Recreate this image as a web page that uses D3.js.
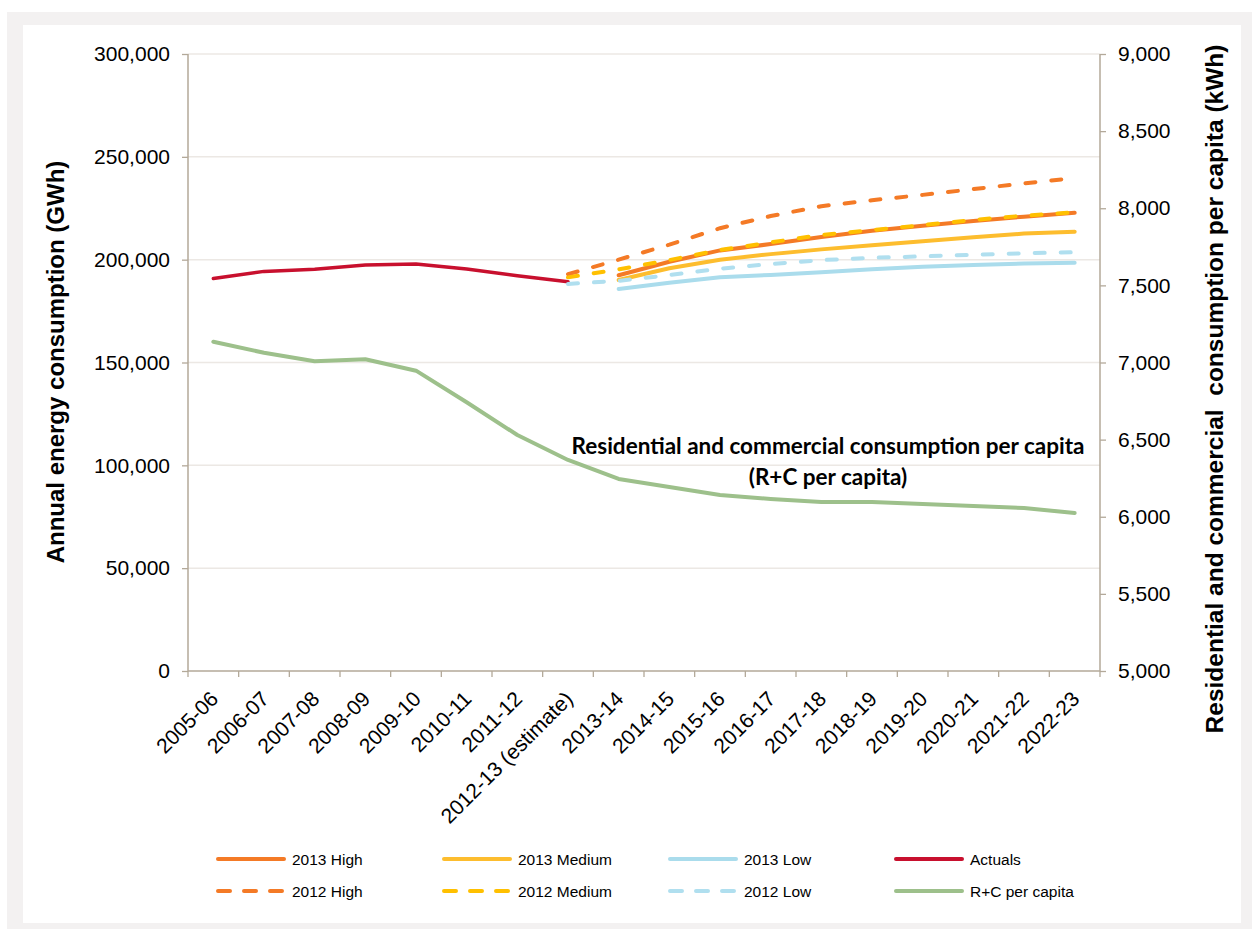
<!DOCTYPE html>
<html>
<head>
<meta charset="utf-8">
<script src="https://cdn.jsdelivr.net/npm/d3@7/dist/d3.min.js"></script>
<style>
  html, body { margin: 0; padding: 0; background: #ffffff; }
  svg { display: block; }
  text { font-family: "Liberation Sans", Arial, sans-serif; fill: #000; }
</style>
</head>
<body>
<svg id="chart" width="1252" height="929"></svg>
<script>
// ---------------- DATA ----------------
const categories = ["2005-06","2006-07","2007-08","2008-09","2009-10","2010-11","2011-12",
  "2012-13 (estimate)","2013-14","2014-15","2015-16","2016-17","2017-18","2018-19",
  "2019-20","2020-21","2021-22","2022-23"];

// GWh (left axis); null = no value
const actuals    = [190800, 194300, 195300, 197400, 197900, 195500, 192200, 189300,
                    null, null, null, null, null, null, null, null, null, null];
const high2013   = [null, null, null, null, null, null, null, null,
                    192400, 199000, 204500, 207600, 211000, 214100, 216500, 218800, 220900, 222800];
const medium2013 = [null, null, null, null, null, null, null, null,
                    190100, 195800, 200000, 202700, 205000, 207000, 208900, 210900, 212700, 213600];
const low2013    = [null, null, null, null, null, null, null, null,
                    185700, 188800, 191400, 192600, 193900, 195300, 196500, 197400, 198100, 198500];
const high2012   = [null, null, null, null, null, null, null,
                    192900, 200000, 207300, 215300, 221200, 226000, 228900, 231500, 234300, 237100, 239700];
const medium2012 = [null, null, null, null, null, null, null,
                    191400, 195300, 199800, 204700, 208400, 212000, 214400, 216800, 219300, 221400, 223000];
const low2012    = [null, null, null, null, null, null, null,
                    188200, 189700, 192500, 195600, 197900, 199800, 200900, 201600, 202400, 203100, 203600];
// kWh per capita (right axis)
const rcPerCapita = [7135, 7063, 7008, 7021, 6947, 6742, 6530, 6368, 6245, 6193,
                     6141, 6115, 6096, 6096, 6083, 6070, 6057, 6024];

const leftTicks  = [0, 50000, 100000, 150000, 200000, 250000, 300000];
const rightTicks = [5000, 5500, 6000, 6500, 7000, 7500, 8000, 8500, 9000];

const leftTitle  = "Annual energy consumption (GWh)";
const rightTitle = "Residential and commercial\u00A0 consumption per capita (kWh)";
const noteLines  = ["Residential and commercial consumption per capita", "(R+C per capita)"];

const series = [
  {name: "2013 High",      values: high2013,   axis: "L", color: "#f47a26", dash: null,    w: 4},
  {name: "2013 Medium",    values: medium2013, axis: "L", color: "#fdbd2e", dash: null,    w: 4},
  {name: "2013 Low",       values: low2013,    axis: "L", color: "#aadcec", dash: null,    w: 4},
  {name: "Actuals",        values: actuals,    axis: "L", color: "#c8102e", dash: null,    w: 3.5},
  {name: "2012 High",      values: high2012,   axis: "L", color: "#f47a26", dash: "10,16", w: 4},
  {name: "2012 Medium",    values: medium2012, axis: "L", color: "#ffc000", dash: "10,16", w: 4},
  {name: "2012 Low",       values: low2012,    axis: "L", color: "#b0dfef", dash: "10,16", w: 4},
  {name: "R+C per capita", values: rcPerCapita,axis: "R", color: "#9dc08b", dash: null,    w: 4}
];

// ---------------- LAYOUT ----------------
const svg = d3.select("#chart");
const plot = {left: 188, right: 1100, top: 54, bottom: 671};
const axisColor = "#b3a999";

// frame
svg.append("rect").attr("x", 7).attr("y", 12).attr("width", 1245).attr("height", 917).attr("fill", "#f3f1f1");
svg.append("rect").attr("x", 23).attr("y", 25).attr("width", 1218).attr("height", 898).attr("fill", "#ffffff");

const x = d3.scaleBand().domain(categories).range([plot.left, plot.right]).padding(0);
const yL = d3.scaleLinear().domain([0, 300000]).range([plot.bottom, plot.top]);
const yR = d3.scaleLinear().domain([5000, 9000]).range([plot.bottom, plot.top]);
const cx = c => x(c) + x.bandwidth() / 2;

// gridlines
svg.append("g").selectAll("line").data(leftTicks.filter(d => d > 0)).join("line")
  .attr("x1", plot.left).attr("x2", plot.right)
  .attr("y1", d => yL(d)).attr("y2", d => yL(d))
  .attr("stroke", "#ece8e4").attr("stroke-width", 1.5);

// left axis
const gL = svg.append("g").attr("transform", `translate(${plot.left},0)`)
  .call(d3.axisLeft(yL).tickValues(leftTicks).tickFormat(d3.format(",")).tickSize(6).tickPadding(12));
// right axis
const gR = svg.append("g").attr("transform", `translate(${plot.right},0)`)
  .call(d3.axisRight(yR).tickValues(rightTicks).tickFormat(d3.format(",")).tickSize(6).tickPadding(12));
[gL, gR].forEach(g => {
  g.select(".domain").attr("stroke", axisColor).attr("stroke-width", 1.5)
   .attr("d", `M0,${plot.top}V${plot.bottom}`);
  g.selectAll(".tick line").attr("stroke", axisColor).attr("stroke-width", 1.3);
  g.selectAll(".tick text").attr("font-size", 21).attr("font-family", "Liberation Sans, Arial, sans-serif").attr("fill", "#000");
});

// x axis baseline and boundary ticks
const gX = svg.append("g");
gX.append("line").attr("x1", plot.left).attr("x2", plot.right)
  .attr("y1", plot.bottom).attr("y2", plot.bottom).attr("stroke", axisColor).attr("stroke-width", 1.5);
const boundaries = categories.map(c => x(c)).concat([x(categories[categories.length - 1]) + x.bandwidth()]);
gX.selectAll("line.tk").data(boundaries).join("line").attr("class", "tk")
  .attr("x1", d => d).attr("x2", d => d).attr("y1", plot.bottom).attr("y2", plot.bottom + 6)
  .attr("stroke", axisColor).attr("stroke-width", 1.3);
gX.selectAll("text").data(categories).join("text")
  .attr("transform", c => `translate(${cx(c) + 1},${plot.bottom + 24}) rotate(-45)`)
  .attr("text-anchor", "end").attr("dy", "0.35em").attr("font-size", 21)
  .text(c => c);

// series lines
const gLines = svg.append("g");
series.forEach(s => {
  const yS = s.axis === "L" ? yL : yR;
  const line = d3.line()
    .defined(d => d.v !== null)
    .x(d => cx(d.c)).y(d => yS(d.v));
  gLines.append("path")
    .datum(categories.map((c, i) => ({c, v: s.values[i]})))
    .attr("d", line)
    .attr("fill", "none").attr("stroke", s.color).attr("stroke-width", s.w)
    .attr("stroke-dasharray", s.dash).attr("stroke-linecap", "round").attr("stroke-linejoin", "round");
});

// axis titles
svg.append("text").attr("transform", "translate(64,362) rotate(-90)")
  .attr("text-anchor", "middle").attr("font-size", 24).attr("font-weight", "bold").text(leftTitle);
svg.append("text").attr("transform", "translate(1223,389) rotate(-90)")
  .attr("text-anchor", "middle").attr("font-size", 24.5).attr("font-weight", "bold").text(rightTitle);

// annotation
svg.append("g").selectAll("text").data(noteLines).join("text")
  .attr("x", 828).attr("y", (d, i) => 454 + i * 31)
  .attr("text-anchor", "middle").attr("font-size", 22.5).attr("font-weight", "bold")
  .style("font-family", "Lato, 'Open Sans', sans-serif").text(d => d);

// legend
const legendOrder = ["2013 High", "2013 Medium", "2013 Low", "Actuals",
                     "2012 High", "2012 Medium", "2012 Low", "R+C per capita"];
const gLeg = svg.append("g");
legendOrder.forEach((name, i) => {
  const s = series.find(d => d.name === name);
  const col = i % 4, row = Math.floor(i / 4);
  const lx = 218 + col * 226, ly = 859 + row * 32;
  gLeg.append("line").attr("x1", lx).attr("x2", lx + 66).attr("y1", ly).attr("y2", ly)
    .attr("stroke", s.color).attr("stroke-width", 4)
    .attr("stroke-dasharray", s.dash ? "12,14" : null).attr("stroke-linecap", "round");
  gLeg.append("text").attr("x", lx + 74).attr("y", ly + 5.5).attr("font-size", 15.5).text(name);
});
</script>
</body>
</html>
